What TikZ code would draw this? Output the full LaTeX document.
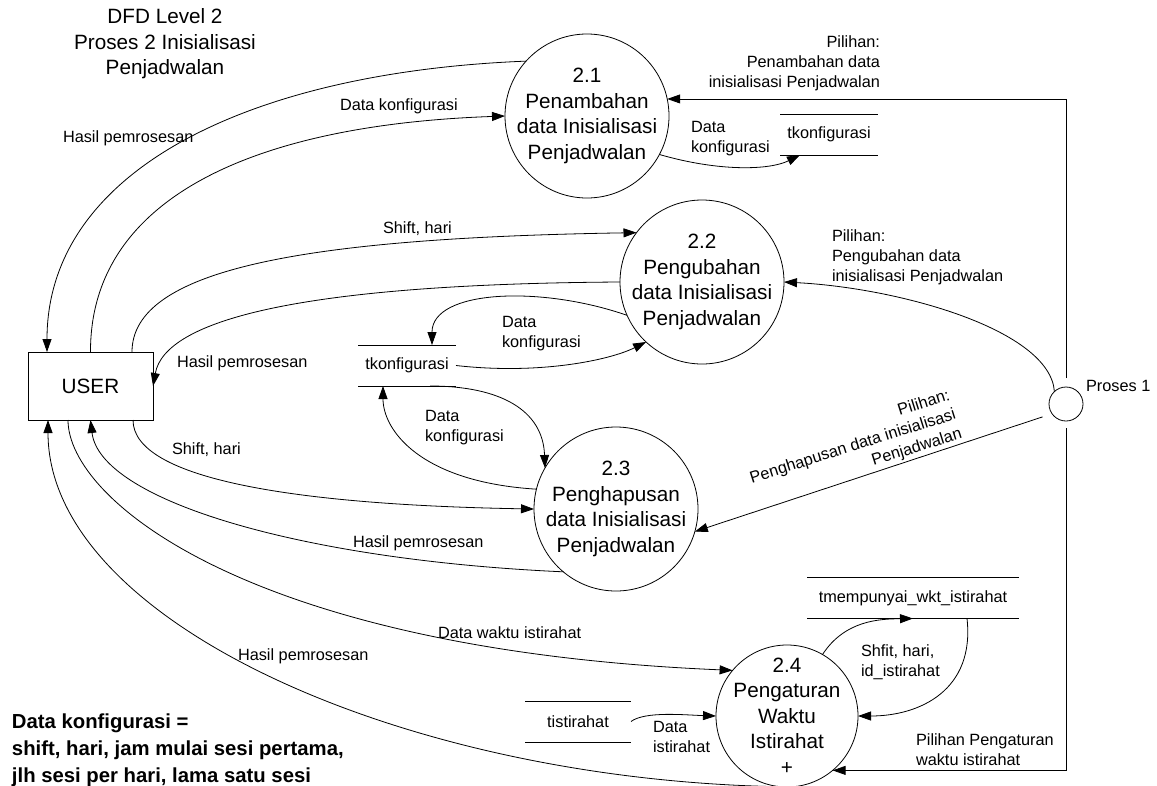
\documentclass[tikz,border=0pt]{standalone}
\usepackage{fontspec}
\setmainfont{Liberation Sans}
\usetikzlibrary{arrows.meta}
\begin{document}
\begin{tikzpicture}[x=1pt,y=-1pt,
  every node/.style={inner sep=0pt, outer sep=0pt},
  lbl/.style={font=\fontsize{16.3}{20}\selectfont, align=left},
  big/.style={font=\fontsize{20.7}{25.5}\selectfont, align=center},
  note/.style={font=\bfseries\fontsize{20.3}{27}\selectfont, align=left},
  proc/.style={circle, draw, line width=0.8pt},
  store/.style={font=\fontsize{16.3}{20}\selectfont, minimum height=41pt},
  storeline/.style={draw, line width=0.8pt},
  flow/.style={draw, line width=0.8pt, -{Triangle[length=13pt,width=9pt]}}
]
\useasboundingbox (0,0) rectangle (1157,785);
\fill[white] (0,0) rectangle (1157,785);
\clip (0,0) rectangle (1157,785);

% title and data dictionary note
\node[big] (title) at (165,44) {DFD Level 2\\Proses 2 Inisialisasi\\Penjadwalan};
\node[note, anchor=west] (dict) at (12,750) {Data konfigurasi =\\shift, hari, jam mulai sesi pertama,\\jlh sesi per hari, lama satu sesi};

% external entity and the calling process
\node[draw, line width=0.8pt, minimum width=125pt, minimum height=68pt,
      font=\fontsize{20.7}{25}\selectfont] (user) at (90.5,386) {USER};
\node[proc, minimum size=34pt] (p1) at (1066,404) {};
\node[lbl, anchor=west] (p1lbl) at (1086,386) {Proses 1};

% processes
\node[proc, minimum size=164pt] (p21) at (587,116) {};
\node[big] (t21) at (p21) {2.1\\Penambahan\\data Inisialisasi\\Penjadwalan};
\node[proc, minimum size=164pt] (p22) at (702,282) {};
\node[big] (t22) at (p22) {2.2\\Pengubahan\\data Inisialisasi\\Penjadwalan};
\node[proc, minimum size=164pt] (p23) at (616,509) {};
\node[big] (t23) at (p23) {2.3\\Penghapusan\\data Inisialisasi\\Penjadwalan};
\node[proc, minimum size=142pt] (p24) at (787,716) {};
\node[big] (t24) at (p24) {2.4\\Pengaturan\\Waktu\\Istirahat\\+};

% data stores
\node[store, minimum width=98pt] (s1) at (829,134.5) {tkonfigurasi};
\node[store, minimum width=98pt] (s2) at (407,365.5) {tkonfigurasi};
\node[store, minimum width=106pt] (s3) at (578,721.5) {tistirahat};
\node[store, minimum width=212pt] (s4) at (913,598) {tmempunyai\_wkt\_istirahat};
\foreach \s in {s1,s2,s3,s4}
  \path[storeline] (\s.north west) -- (\s.north east) (\s.south west) -- (\s.south east);

% flows of process 2.1
\path[flow] (p21.138) .. controls (250,72) and (47,170) .. ([xshift=19pt]user.north west);
\path[flow] (user.north) .. controls (90,200) and (250,125) .. (p21.180);
\path[flow, shorten <=9pt] (p1.north) |- (p21.12);
\path[flow] (p21.-28) .. controls (720,172) and (770,170) .. ([xshift=-29pt]s1.south);

% flows of process 2.2
\path[flow] ([xshift=-21pt]user.north east) .. controls (132,270) and (300,238) .. (p22.143);
\path[flow] (p22.180) .. controls (300,284) and (165,320) .. (user.east);
\path[flow] (p1.133) .. controls (1050,330) and (900,288) .. (p22.0);
\path[flow] (p22.204) .. controls (540,285) and (432,290) .. ([xshift=25pt]s2.north);
\path[flow] (s2.east) .. controls (540,375) and (610,360) .. (p22.227);

% flows of process 2.3
\path[flow] ([xshift=23pt]s2.south) .. controls (500,386) and (543,410) .. (p23.150);
\path[flow] (p23.166) .. controls (420,482) and (383,430) .. ([xshift=-24pt]s2.south);
\path[flow] ([xshift=-20pt]user.south east) .. controls (133,480) and (300,505) .. (p23.180);
\path[flow] (p23.230) .. controls (300,560) and (100,500) .. (user.south);
\path[flow, shorten <=10pt] (p1.215) -- (p23.-16);

% flows of process 2.4
\path[flow] ([xshift=40pt]user.south west) .. controls (68,500) and (250,650) .. (p24.140);
\path[flow] (p24.265) .. controls (400,780) and (48,620) .. ([xshift=20pt]user.south west);
\path[flow] (s3.east) .. controls (645,711) and (685,715) .. (p24.180);
\path[flow] (p24.60) .. controls (845,620) and (880,619) .. (s4.south);
\path[flow] ([xshift=54pt]s4.south) .. controls (975,690) and (920,716) .. (p24.0);
\path[flow, shorten <=7pt] (p1.south) |- (p24.-50);

% flow labels
\node[lbl, anchor=west] (l1) at (63,138) {Hasil pemrosesan};
\node[lbl, anchor=west] (l2) at (340,106) {Data konfigurasi};
\node[lbl, anchor=east, align=right] (l3) at (880,63) {Pilihan:\\Penambahan data\\inisialisasi Penjadwalan};
\node[lbl, anchor=west] (l4) at (691,139) {Data\\konfigurasi};
\node[lbl, anchor=west] (l5) at (383,229) {Shift, hari};
\node[lbl, anchor=west] (l6) at (832,257) {Pilihan:\\Pengubahan data\\inisialisasi Penjadwalan};
\node[lbl, anchor=west] (l7) at (177,363) {Hasil pemrosesan};
\node[lbl, anchor=west] (l8) at (502,334) {Data\\konfigurasi};
\node[lbl, anchor=west] (l9) at (425,428) {Data\\konfigurasi};
\node[lbl, anchor=west] (l10) at (172,450) {Shift, hari};
\node[lbl, align=right, rotate=17.5] (l11) at (853,447) {Pilihan:\\Penghapusan data inisialisasi\\Penjadwalan};
\node[lbl, anchor=west] (l12) at (353,543) {Hasil pemrosesan};
\node[lbl, anchor=west] (l13) at (438,633) {Data waktu istirahat};
\node[lbl, anchor=west] (l14) at (238,656) {Hasil pemrosesan};
\node[lbl, anchor=west] (l15) at (653,737) {Data\\istirahat};
\node[lbl, anchor=west] (l16) at (861,662) {Shfit, hari,\\id\_istirahat};
\node[lbl, anchor=west] (l17) at (916,750) {Pilihan Pengaturan\\waktu istirahat};
\end{tikzpicture}
\end{document}
